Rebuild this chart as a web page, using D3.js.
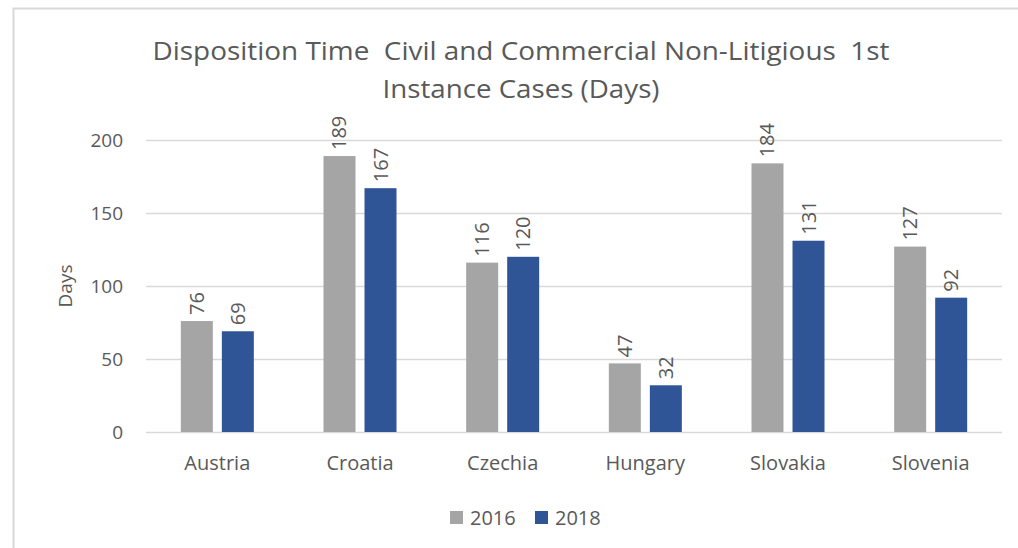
<!DOCTYPE html>
<html>
<head>
<meta charset="utf-8">
<script src="https://cdn.jsdelivr.net/npm/d3@7"></script>
<style>
  body { margin: 0; background: #fff; }
  svg text { font-family: "Open Sans", "Noto Sans", sans-serif; fill: #595959; }
</style>
</head>
<body>
<svg></svg>
<script>
var width = 1018,
    height = 548;

// Chart data
var countries = ['Austria', 'Croatia', 'Czechia', 'Hungary', 'Slovakia', 'Slovenia'];
var years = ['2016', '2018'];
var values2016 = [76, 189, 116, 47, 184, 127];
var values2018 = [69, 167, 120, 32, 131, 92];
var yTicks = [0, 50, 100, 150, 200];
var titleLines = ['Disposition Time  Civil and Commercial Non-Litigious  1st', 'Instance Cases (Days)'];

var colors = { '2016': '#a5a5a5', '2018': '#2f5597' };

var margin = { left: 146, right: 16, top: 140, bottom: 116 };

var svg = d3.select('svg')
    .attr('width', width)
    .attr('height', height);

// Chart frame
svg.append('rect')
    .attr('x', 13.5)
    .attr('y', 8.5)
    .attr('width', width + 10)
    .attr('height', height + 10)
    .attr('fill', '#fff')
    .attr('stroke', '#d9d9d9')
    .attr('stroke-width', 2);

var x = d3.scaleBand()
    .domain(countries)
    .range([margin.left, width - margin.right]);

var x1 = d3.scaleBand()
    .domain(years)
    .range([0, 73])
    .paddingInner(0.22);

var y = d3.scaleLinear()
    .domain([0, 200])
    .range([height - margin.bottom, margin.top]);

// Gridlines
svg.append('g')
    .selectAll('line')
    .data(yTicks)
    .enter().append('line')
    .attr('x1', margin.left)
    .attr('x2', width - margin.right)
    .attr('y1', function(d) { return y(d) + 0.5; })
    .attr('y2', function(d) { return y(d) + 0.5; })
    .attr('stroke', '#d9d9d9')
    .attr('stroke-width', 1.5);

// Y tick labels
svg.append('g')
    .selectAll('text')
    .data(yTicks)
    .enter().append('text')
    .attr('x', 123)
    .attr('y', function(d) { return y(d); })
    .attr('dy', '0.35em')
    .attr('text-anchor', 'end')
    .style('font-size', '19px')
    .text(function(d) { return d; });

// Y axis title
svg.append('text')
    .attr('transform', 'translate(72,' + y(100) + ')rotate(-90)')
    .attr('text-anchor', 'middle')
    .style('font-size', '19px')
    .text('Days');

// Bars
var rows = countries.map(function(c, i) {
    return { country: c, vals: [
        { year: '2016', value: values2016[i] },
        { year: '2018', value: values2018[i] }
    ] };
});

var groups = svg.append('g')
    .selectAll('g')
    .data(rows)
    .enter().append('g')
    .attr('transform', function(d) {
        return 'translate(' + (x(d.country) + x.bandwidth() / 2 - 36.5) + ',0)';
    });

groups.selectAll('rect')
    .data(function(d) { return d.vals; })
    .enter().append('rect')
    .attr('x', function(d) { return x1(d.year); })
    .attr('y', function(d) { return y(d.value); })
    .attr('width', x1.bandwidth())
    .attr('height', function(d) { return y(0) - y(d.value); })
    .attr('fill', function(d) { return colors[d.year]; });

// Data labels
groups.selectAll('text')
    .data(function(d) { return d.vals; })
    .enter().append('text')
    .attr('transform', function(d) {
        return 'translate(' + (x1(d.year) + x1.bandwidth() / 2) + ',' + (y(d.value) - 6) + ')rotate(-90)';
    })
    .attr('dy', '0.35em')
    .style('font-size', '20px')
    .text(function(d) { return d.value; });

// X labels
svg.append('g')
    .selectAll('text')
    .data(countries)
    .enter().append('text')
    .attr('x', function(d) { return x(d) + x.bandwidth() / 2; })
    .attr('y', 470)
    .attr('text-anchor', 'middle')
    .style('font-size', '20px')
    .text(function(d) { return d; });

// Title
svg.append('g')
    .selectAll('text')
    .data(titleLines)
    .enter().append('text')
    .attr('x', 521)
    .attr('y', function(d, i) { return 60 + i * 38; })
    .attr('text-anchor', 'middle')
    .attr('textLength', function(d, i) { return i === 0 ? 737 : 277; })
    .attr('lengthAdjust', 'spacingAndGlyphs')
    .style('white-space', 'pre')
    .style('font-size', '26px')
    .text(function(d) { return d; });

// Legend
var legend = svg.append('g')
    .selectAll('g')
    .data(years)
    .enter().append('g')
    .attr('transform', function(d, i) { return 'translate(' + (450 + i * 85) + ',511)'; });

legend.append('rect')
    .attr('width', 13)
    .attr('height', 13)
    .attr('fill', function(d) { return colors[d]; });

legend.append('text')
    .attr('x', 20)
    .attr('y', 7)
    .attr('dy', '0.35em')
    .style('font-size', '20px')
    .text(function(d) { return d; });
</script>
</body>
</html>
